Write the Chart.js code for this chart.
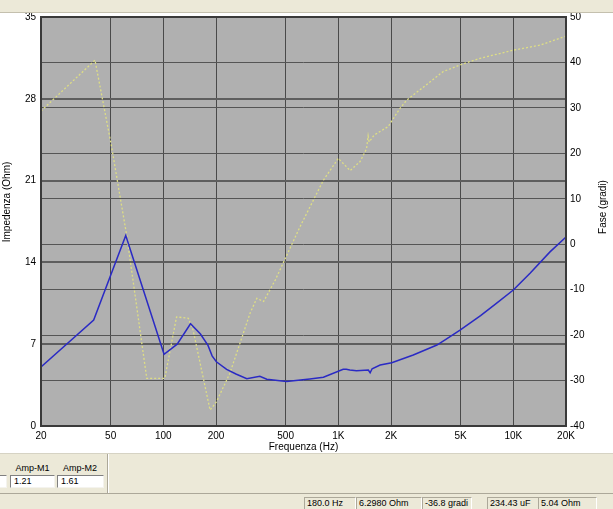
<!DOCTYPE html>
<html>
<head>
<meta charset="utf-8">
<script src="https://cdn.jsdelivr.net/npm/chart.js@4/dist/chart.umd.min.js"></script>
<style>
  html, body { margin: 0; padding: 0; background: #fff; }
  body { width: 613px; height: 509px; position: relative; overflow: hidden; font-family: "Liberation Sans", Arial, sans-serif; }
  #plot { position: absolute; left: 0; top: 0; }
  #topbar { position: absolute; left: 0; top: 0; width: 613px; height: 12px; background: #ece9d8; border-bottom: 1px solid #c4c0ae; }
  #panel { position: absolute; left: 0; top: 453px; width: 613px; height: 40px; background: #ece9d8; border-top: 1px solid #d6d3c4; }
  #status { position: absolute; left: 0; top: 493px; width: 613px; height: 16px; background: #ece9d8; border-top: 1px solid #aca899; }
  .lbl { position: absolute; font-size: 9px; color: #000; text-align: center; }
  .box { position: absolute; height: 11px; background: #fff; border-top: 1px solid #808080; border-left: 1px solid #808080; border-bottom: 1px solid #f4f3ee; border-right: 1px solid #f4f3ee; font-size: 9px; line-height: 11px; padding-left: 3px; box-sizing: content-box; }
  .sep { position: absolute; left: 107px; top: 0; width: 1px; height: 40px; background: #aca899; border-right: 1px solid #fff; }
  .cell { position: absolute; top: 3px; height: 11px; border-top: 1px solid #aca899; border-left: 1px solid #aca899; border-bottom: 1px solid #fff; border-right: 1px solid #fff; font-size: 9px; line-height: 11px; padding-left: 2px; white-space: nowrap; }
</style>
</head>
<body>
<canvas id="plot" width="613" height="453"></canvas>
<div id="topbar"></div>
<div id="panel">
  <div class="box" style="left:-3px; top:21px; width:5px;"></div>
  <div class="lbl" style="left:10px; top:9px; width:45px;">Amp-M1</div>
  <div class="box" style="left:10px; top:21px; width:40px;">1.21</div>
  <div class="lbl" style="left:57px; top:9px; width:46px;">Amp-M2</div>
  <div class="box" style="left:57px; top:21px; width:42px;">1.61</div>
  <div class="sep"></div>
</div>
<div id="status">
  <div class="cell" style="left:304px; width:48px;">180.0 Hz</div>
  <div class="cell" style="left:356px; width:62px;">6.2980 Ohm</div>
  <div class="cell" style="left:422px; width:46px;">-36.8 gradi</div>
  <div class="cell" style="left:487px; width:48px;">234.43 uF</div>
  <div class="cell" style="left:538px; width:55px;">5.04 Ohm</div>
</div>
<script>
// x axis (log) ticks
const freqTicks = [20, 50, 100, 200, 500, 1000, 2000, 5000, 10000, 20000];
const freqTickLabels = ['20', '50', '100', '200', '500', '1K', '2K', '5K', '10K', '20K'];

// impedance curve (Ohm)
const freqZ = [20, 40, 61, 101, 120, 143, 163, 180, 190, 201, 230, 260, 300, 356, 390, 506, 688, 822,
  1066, 1110, 1164, 1270, 1484, 1520, 1560, 1734, 2020, 2680, 3660, 4200, 4960, 6500, 8000, 10000, 12500, 16200, 20000];
const impedance = [5.05, 9.07, 16.3, 6.14, 7.0, 8.75, 7.87, 6.9, 6.0, 5.5, 4.85, 4.45, 4.05, 4.25, 4.0, 3.8, 4.02, 4.17,
  4.85, 4.85, 4.79, 4.73, 4.79, 4.56, 4.9, 5.22, 5.42, 6.08, 6.93, 7.5, 8.2, 9.45, 10.5, 11.64, 13.1, 14.9, 16.17];

// phase curve (gradi)
const freqP = [20, 40.7, 50.6, 61.9, 80.4, 102, 119, 139, 148, 185, 201, 240, 313, 342, 374, 436, 605, 822,
  1000, 1168, 1332, 1450, 1480, 1500, 1600, 1928, 2250, 2460, 2930, 3980, 5080, 6460, 10000, 14200, 20000];
const phase = [29.3, 40.5, 21.5, 1.7, -29.5, -29.5, -16, -16.3, -18.9, -36.5, -34.7, -28.4, -15.2, -11.9, -12.6, -7.9, 3.9, 14.1,
  18.9, 16.2, 18.2, 21, 23.8, 22.5, 24, 25.9, 29.9, 31.7, 34, 38.0, 39.6, 40.9, 42.7, 43.8, 45.8];

const FONT = { family: '"Liberation Sans", Arial, sans-serif', size: 10 };

const plotDecor = {
    id: 'plotDecor',
    beforeDraw(chart) {
        const { ctx, chartArea: a } = chart;
        ctx.save();
        ctx.fillStyle = '#b0b0b0';
        ctx.fillRect(a.left, a.top, a.right - a.left, a.bottom - a.top);
        ctx.restore();
    },
    afterDraw(chart) {
        const { ctx, chartArea: a } = chart;
        ctx.save();
        ctx.strokeStyle = '#3a3a3a';
        ctx.lineWidth = 2;
        ctx.strokeRect(a.left, a.top, a.right - a.left, a.bottom - a.top);

        // axis titles (both read bottom to top)
        ctx.fillStyle = '#000';
        ctx.font = '10px "Liberation Sans", Arial, sans-serif';
        ctx.textAlign = 'center';
        ctx.textBaseline = 'middle';
        ctx.translate(7, 202);
        ctx.rotate(-Math.PI / 2);
        ctx.fillText('Impedenza (Ohm)', 0, 0);
        ctx.restore();

        ctx.save();
        ctx.fillStyle = '#000';
        ctx.font = '10px "Liberation Sans", Arial, sans-serif';
        ctx.textAlign = 'center';
        ctx.textBaseline = 'middle';
        ctx.translate(603, 207);
        ctx.rotate(-Math.PI / 2);
        ctx.fillText('Fase (gradi)', 0, 0);
        ctx.restore();
    }
};

new Chart(document.getElementById('plot'), {
    type: 'line',
    data: {
        datasets: [{
            label: 'Impedenza',
            data: freqZ.map((f, i) => ({ x: f, y: impedance[i] })),
            yAxisID: 'y',
            borderColor: '#2a2ac4',
            borderWidth: 1.5,
            pointRadius: 0,
            tension: 0
        }, {
            label: 'Fase',
            data: freqP.map((f, i) => ({ x: f, y: phase[i] })),
            yAxisID: 'y2',
            borderColor: '#dede84',
            borderWidth: 1.3,
            borderDash: [2, 2],
            pointRadius: 0,
            tension: 0
        }]
    },
    options: {
        responsive: false,
        animation: false,
        devicePixelRatio: 1,
        layout: { padding: { top: 17, left: 0, right: 0, bottom: 0 } },
        plugins: { legend: { display: false }, tooltip: { enabled: false } },
        scales: {
            x: {
                type: 'logarithmic',
                min: 20,
                max: 20000,
                afterBuildTicks: axis => { axis.ticks = freqTicks.map(v => ({ value: v })); },
                afterFit: s => { s.height = 27; },
                ticks: {
                    autoSkip: false,
                    maxRotation: 0,
                    padding: 4,
                    color: '#000',
                    font: FONT,
                    callback: (v, i) => freqTickLabels[i]
                },
                grid: { color: '#4a4a4a', lineWidth: 1, drawTicks: false },
                border: { display: false },
                title: { display: true, text: 'Frequenza (Hz)', color: '#000', font: FONT, padding: 0 }
            },
            y: {
                position: 'left',
                min: 0,
                max: 35,
                afterFit: s => { s.width = 41; },
                ticks: { stepSize: 7, padding: 5, color: '#000', font: FONT },
                grid: { color: '#5e5e5e', lineWidth: 2, drawTicks: false },
                border: { display: false }
            },
            y2: {
                position: 'right',
                min: -40,
                max: 50,
                afterFit: s => { s.width = 47; },
                ticks: { stepSize: 10, padding: 4, color: '#000', font: FONT },
                grid: { color: '#555', lineWidth: 1, drawTicks: false },
                border: { display: false }
            }
        }
    },
    plugins: [plotDecor]
});
</script>
</body>
</html>
